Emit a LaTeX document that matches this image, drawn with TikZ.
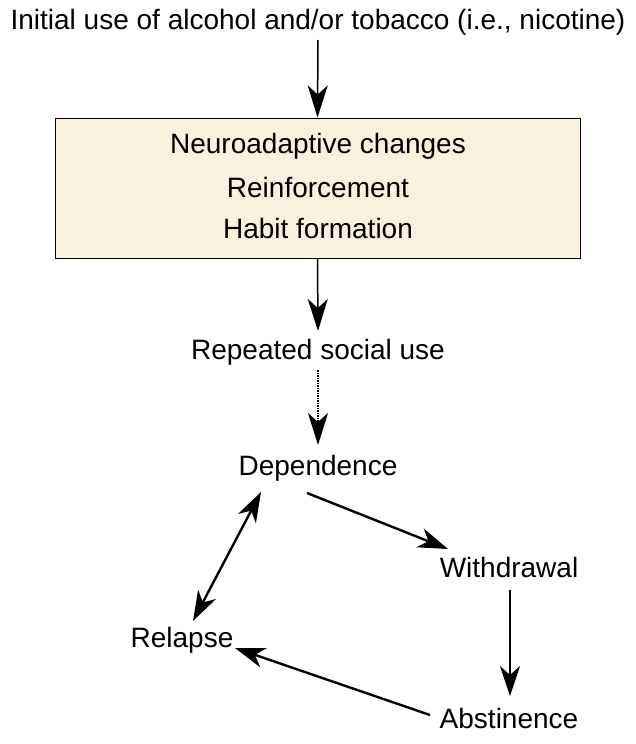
\documentclass[tikz,border=0pt]{standalone}
\usepackage{fontspec}
\setmainfont{Liberation Sans}
\usetikzlibrary{arrows.meta}
\begin{document}
\begin{tikzpicture}[x=1pt,y=-1pt,
  lbl/.style={font=\fontsize{28}{32}\selectfont, inner sep=0pt},
  arr/.style={line width=2.4pt,-{Stealth[length=30pt,width=20pt,inset=9pt]}},
  thin arr/.style={line width=1.5pt,-{Stealth[length=32pt,width=20pt,inset=9pt]}},
  box/.style={draw=black,line width=1pt,fill={rgb,255:red,250;green,240;blue,222},minimum width=525pt,minimum height=140pt}]
\useasboundingbox (0,0) rectangle (636,744);
\node[lbl] (init) at (318,22) {Initial use of alcohol and/or tobacco (i.e., nicotine)};
\node[box] (box) at (317.5,188) {};
\node[lbl] (l1) at (318,146) {Neuroadaptive changes};
\node[lbl] (l2) at (318,187) {Reinforcement};
\node[lbl] (l3) at (318,228) {Habit formation};
\node[lbl] (rep) at (318,352) {Repeated social use};
\node[lbl] (dep) at (318,468) {Dependence};
\node[lbl] (wd) at (509,567) {Withdrawal};
\node[lbl] (ab) at (509,718) {Abstinence};
\node[lbl] (rel) at (182,640) {Relapse};
\draw[thin arr] (318,40) -- (box.north);
\draw[thin arr] (box.south) -- (318,331);
\draw[thin arr,densely dotted] (318,370) -- (318,445);
\draw[arr] (307,493) -- (448,549);
\draw[arr] (510,590) -- (510,696);
\draw[arr] (430,715) -- (235,648);
\draw[line width=2.4pt,{Stealth[length=30pt,width=20pt,inset=9pt]}-{Stealth[length=30pt,width=20pt,inset=9pt]}] (193,621) -- (261,492);
\end{tikzpicture}
\end{document}
